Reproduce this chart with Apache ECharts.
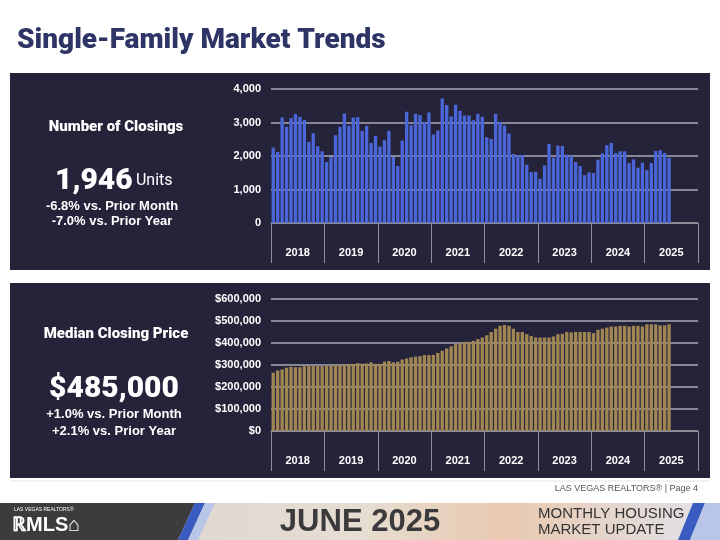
<!DOCTYPE html>
<html><head><meta charset="utf-8">
<script src="https://cdn.jsdelivr.net/npm/echarts@6/dist/echarts.min.js"></script>
<style>html,body{margin:0;padding:0;background:#fff}#c{width:720px;height:540px}</style>
</head><body><div id="c"></div>
<script>
const years = ['2018','2019','2020','2021','2022','2023','2024','2025'];
const closings = [
2250,2120,3150,2870,3130,3250,3170,3080,2420,2680,2290,2140,
1820,1970,2620,2870,3270,2900,3150,3160,2750,2900,2390,2600,
2280,2470,2750,1970,1700,2460,3320,2920,3260,3220,3020,3300,
2640,2760,3720,3520,3180,3530,3350,3210,3210,3070,3260,3170,
2560,2510,3260,3020,2910,2670,2060,2020,2030,1740,1520,1530,
1320,1720,2360,1950,2310,2300,2040,2010,1820,1700,1430,1510,
1490,1890,2080,2320,2390,2090,2140,2140,1790,1900,1650,1800,
1580,1790,2150,2170,2090,1946];
const prices = [
265,275,280,288,292,290,290,295,295,295,295,295,
297,297,298,300,302,304,305,308,306,307,312,305,
305,315,318,312,315,325,330,335,338,340,345,345,
346,355,365,375,385,395,400,405,405,410,418,425,
435,450,465,478,482,478,465,450,450,440,432,425,
425,425,425,430,440,442,450,448,450,450,450,450,
445,460,465,470,475,475,478,478,475,478,478,475,
485,485,485,480,480,485].map(v=>v*1000);
const months = [];
years.forEach(y=>{for(let m=1;m<=12;m++)months.push(y+'-'+m);});

const F='Liberation Sans Narrow, Arial Narrow, sans-serif';
const chart = echarts.init(document.getElementById('c'));
function monthAxis(gi){return {type:'category',gridIndex:gi,data:months,boundaryGap:true,
  axisLine:{show:true,lineStyle:{color:'#8d8d9a',width:1}},
  axisTick:{show:true,interval:11,length:40,lineStyle:{color:'#8d8d9a'}},
  axisLabel:{show:false}};}
function yearAxis(gi){return {type:'category',gridIndex:gi,data:years,position:'bottom',
  axisLine:{show:false},axisTick:{show:false},
  axisLabel:{color:'#fff',fontFamily:F,fontWeight:'bold',fontSize:11,margin:24}};}
chart.setOption({
  animation:false,
  grid:[{left:271,right:22,top:89,height:134},{left:271,right:22,top:299,height:132}],
  xAxis:[monthAxis(0),yearAxis(0),monthAxis(1),yearAxis(1)],
  yAxis:[
    {type:'value',gridIndex:0,min:0,max:4000,interval:1000,
     axisLabel:{color:'#fff',fontFamily:F,fontWeight:'bold',fontSize:11,margin:10,formatter:v=>v.toLocaleString('en-US')},
     splitLine:{lineStyle:{color:'#aaaab4',width:1.5}},axisLine:{show:false},axisTick:{show:false}},
    {type:'value',gridIndex:1,min:0,max:600000,interval:100000,
     axisLabel:{color:'#fff',fontFamily:F,fontWeight:'bold',fontSize:11,margin:10,formatter:v=>'$'+v.toLocaleString('en-US')},
     splitLine:{lineStyle:{color:'#aaaab4',width:1.5}},axisLine:{show:false},axisTick:{show:false}}
  ],
  series:[
    {type:'bar',xAxisIndex:0,yAxisIndex:0,data:closings,barCategoryGap:'25%',itemStyle:{color:'#4a66d8'}},
    {type:'bar',xAxisIndex:2,yAxisIndex:1,data:prices,barCategoryGap:'25%',itemStyle:{color:'#a08653'}}
  ],
  graphic:[
    {type:'rect',z:-10,shape:{x:10,y:73,width:700,height:197},style:{fill:'#25233a'}},
    {type:'rect',z:-10,shape:{x:10,y:283,width:700,height:195},style:{fill:'#25233a'}},
    {type:'text',left:17,top:27,style:{text:'Single-Family Market Trends',fill:'#2e3566',font:'900 28px Roboto, sans-serif'}},
    {type:'text',x:116,y:127,style:{text:'Number of Closings',fill:'#fff',font:'900 15px Roboto, sans-serif',align:'center',verticalAlign:'middle'}},
    {type:'text',x:55,y:181,style:{text:'{a|1,946} {b|Units}',fill:'#fff',verticalAlign:'middle',
      rich:{a:{font:'900 30px Roboto, sans-serif',fill:'#fff'},b:{font:'16px Roboto, sans-serif',fill:'#fff'}}}},
    {type:'text',x:112,y:206,style:{text:'-6.8% vs. Prior Month',fill:'#fff',font:'bold 13px '+F,align:'center',verticalAlign:'middle'}},
    {type:'text',x:112,y:221,style:{text:'-7.0% vs. Prior Year',fill:'#fff',font:'bold 13px '+F,align:'center',verticalAlign:'middle'}},
    {type:'text',x:116,y:334,style:{text:'Median Closing Price',fill:'#fff',font:'900 15px Roboto, sans-serif',align:'center',verticalAlign:'middle'}},
    {type:'text',x:114,y:389,style:{text:'$485,000',fill:'#fff',font:'900 30px Roboto, sans-serif',align:'center',verticalAlign:'middle'}},
    {type:'text',x:114,y:414,style:{text:'+1.0% vs. Prior Month',fill:'#fff',font:'bold 13px '+F,align:'center',verticalAlign:'middle'}},
    {type:'text',x:114,y:431,style:{text:'+2.1% vs. Prior Year',fill:'#fff',font:'bold 13px '+F,align:'center',verticalAlign:'middle'}},
    {type:'line',shape:{x1:10,y1:481,x2:710,y2:481},style:{stroke:'#e4e4ec',lineWidth:1}},
    {type:'text',x:698,y:489,style:{text:'LAS VEGAS REALTORS® | Page 4',fill:'#555',font:'9px '+F,align:'right',verticalAlign:'middle'}},
    {type:'rect',z:-5,shape:{x:0,y:503,width:720,height:37},style:{fill:new echarts.graphic.LinearGradient(0,0,1,0,[
      {offset:0,color:'#d8d4d0'},{offset:0.5,color:'#e6ddd2'},{offset:0.7,color:'#e9c9b0'},{offset:1,color:'#e0e2ea'}])}},
    {type:'polygon',z:-4,shape:{points:[[0,503],[195,503],[178,540],[0,540]]},style:{fill:'#3c3c3e'}},
    {type:'polygon',z:-4,shape:{points:[[195,503],[205,503],[188,540],[178,540]]},style:{fill:'#3a5bbf'}},
    {type:'polygon',z:-4,shape:{points:[[205,503],[215,503],[198,540],[188,540]]},style:{fill:'#b9c6e8'}},
    {type:'polygon',z:-4,shape:{points:[[693,503],[705,503],[690,540],[678,540]]},style:{fill:'#3a5bbf'}},
    {type:'polygon',z:-4,shape:{points:[[705,503],[720,503],[720,540],[690,540]]},style:{fill:'#b9c6e8'}},
    {type:'text',x:12,y:525,style:{text:'ℝMLS⌂',fill:'#fff',font:'bold 20px '+F,verticalAlign:'middle'}},
    {type:'text',x:14,y:510,style:{text:'LAS VEGAS REALTORS®',fill:'#fff',font:'5px '+F,verticalAlign:'middle'}},
    {type:'text',x:360,y:522,style:{text:'JUNE 2025',fill:'#3a3a3c',font:'bold 31px '+F,align:'center',verticalAlign:'middle'}},
    {type:'text',x:538,y:514,style:{text:'MONTHLY HOUSING',fill:'#333',font:'15px '+F,verticalAlign:'middle'}},
    {type:'text',x:538,y:530,style:{text:'MARKET UPDATE',fill:'#333',font:'15px '+F,verticalAlign:'middle'}}
  ]
});
</script></body></html>
